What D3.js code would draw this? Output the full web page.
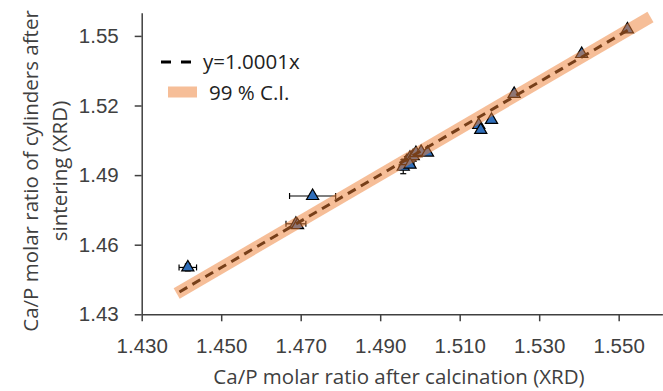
<!DOCTYPE html>
<html>
<head>
<meta charset="utf-8">
<script src="https://cdn.jsdelivr.net/npm/d3@7"></script>
<style>
  body { margin: 0; background: #fff; }
  svg { display: block; font-family: "Open Sans", Lato, sans-serif; }
</style>
</head>
<body>
<svg id="chart" width="663" height="391"></svg>
<script>
// Ca/P after calcination (x) vs after sintering (y)
const calcination = [1.4416, 1.4730, 1.4688, 1.4692, 1.4958, 1.4967, 1.4975, 1.4983, 1.4990,
                     1.5003, 1.5019, 1.4975, 1.5148, 1.5153, 1.5180, 1.5237, 1.5407, 1.5522];
const sintering   = [1.4502, 1.4810, 1.4690, 1.4684, 1.4936, 1.4960, 1.4975, 1.4982, 1.4995,
                     1.5000, 1.4997, 1.4945, 1.5116, 1.5095, 1.5138, 1.5250, 1.5422, 1.5528];
const xErr        = [0.0022, 0.0058, 0.0025, 0, 0.0010, 0.0012, 0.0010, 0.0010, 0.0010,
                     0.0010, 0, 0.0010, 0, 0, 0, 0, 0, 0];
const yErr        = [0.0015, 0.0008, 0.0015, 0, 0.0030, 0.0020, 0.0015, 0.0015, 0.0010,
                     0.0010, 0, 0.0010, 0, 0, 0, 0.0008, 0.0008, 0.0008];

const xTicks = [1.430, 1.450, 1.470, 1.490, 1.510, 1.530, 1.550];
const yTicks = [1.43, 1.46, 1.49, 1.52, 1.55];

const fitSlope = 1.0001;
const fitRange = [1.4395, 1.5528];   // dashed line ends
const ciRange  = [1.4388, 1.5580];   // band ends

const points = calcination.map((x, i) => ({ x, y: sintering[i], ex: xErr[i], ey: yErr[i] }));

const svg = d3.select('#chart');

const x = d3.scaleLinear().domain([1.43, 1.561]).range([141.7, 662.4]);
const y = d3.scaleLinear().domain([1.43, 1.56]).range([314.3, 12.7]);

const axisColor = '#404040';
const fontSize = '20.5px';

// x axis
const gx = svg.append('g')
    .attr('transform', `translate(0,${y(1.43)})`)
    .call(d3.axisBottom(x).tickValues(xTicks).tickFormat(d3.format('.3f'))
        .tickSize(7).tickSizeOuter(0).tickPadding(17));
gx.select('.domain').attr('stroke', axisColor).attr('stroke-width', 1.5);
gx.selectAll('.tick line').attr('stroke', axisColor).attr('stroke-width', 1.5);
gx.selectAll('.tick text').attr('fill', '#404040').style('font-size', fontSize);

// y axis
const gy = svg.append('g')
    .attr('transform', `translate(${x(1.43)},0)`)
    .call(d3.axisLeft(y).tickValues(yTicks).tickFormat(d3.format('.2f'))
        .tickSize(7).tickSizeOuter(0).tickPadding(16));
gy.select('.domain').attr('stroke', axisColor).attr('stroke-width', 1.5);
gy.selectAll('.tick line').attr('stroke', axisColor).attr('stroke-width', 1.5);
gy.selectAll('.tick text').attr('fill', '#404040').style('font-size', fontSize);

// axis titles
svg.append('text')
    .attr('x', 399).attr('y', 384)
    .attr('text-anchor', 'middle')
    .attr('fill', '#404040')
    .style('font-size', fontSize)
    .text('Ca/P molar ratio after calcination (XRD)');

const yTitle = svg.append('text')
    .attr('transform', 'translate(38,171) rotate(-90)')
    .attr('text-anchor', 'middle')
    .attr('fill', '#404040')
    .style('font-size', '20.5px');
yTitle.append('tspan').attr('x', 0).attr('y', 0).text('Ca/P molar ratio of cylinders after');
yTitle.append('tspan').attr('x', 0).attr('y', 29).text('sintering (XRD)');

// error bars
const cap = 3;
const bars = svg.append('g').attr('stroke', '#000').attr('stroke-width', 1.2);
points.filter(d => d.ex > 0).forEach(d => {
    bars.append('line').attr('x1', x(d.x - d.ex)).attr('x2', x(d.x + d.ex)).attr('y1', y(d.y)).attr('y2', y(d.y));
    bars.append('line').attr('x1', x(d.x - d.ex)).attr('x2', x(d.x - d.ex)).attr('y1', y(d.y) - cap).attr('y2', y(d.y) + cap);
    bars.append('line').attr('x1', x(d.x + d.ex)).attr('x2', x(d.x + d.ex)).attr('y1', y(d.y) - cap).attr('y2', y(d.y) + cap);
});
points.filter(d => d.ey > 0).forEach(d => {
    bars.append('line').attr('x1', x(d.x)).attr('x2', x(d.x)).attr('y1', y(d.y - d.ey)).attr('y2', y(d.y + d.ey));
    bars.append('line').attr('x1', x(d.x) - cap).attr('x2', x(d.x) + cap).attr('y1', y(d.y - d.ey)).attr('y2', y(d.y - d.ey));
    bars.append('line').attr('x1', x(d.x) - cap).attr('x2', x(d.x) + cap).attr('y1', y(d.y + d.ey)).attr('y2', y(d.y + d.ey));
});

// triangles
svg.append('g').selectAll('path')
    .data(points)
    .join('path')
    .attr('d', d3.symbol(d3.symbolTriangle, 64))
    .attr('transform', d => `translate(${x(d.x)},${y(d.y)})`)
    .attr('fill', '#2F6EBA')
    .attr('stroke', '#000')
    .attr('stroke-width', 1.2);

// fitted line y = 1.0001x
const line = d3.line().x(d => x(d[0])).y(d => y(d[1]));
svg.append('path')
    .attr('d', line(fitRange.map(v => [v, v * fitSlope])))
    .attr('stroke', '#000')
    .attr('stroke-width', 3)
    .attr('stroke-dasharray', '9,6')
    .attr('fill', 'none');

// 99 % confidence band, drawn on top, half transparent
svg.append('path')
    .attr('d', line(ciRange.map(v => [v, v * fitSlope])))
    .attr('stroke', '#ED7D31')
    .attr('stroke-opacity', 0.5)
    .attr('stroke-width', 12)
    .attr('fill', 'none');

// legend
const legend = svg.append('g');
legend.append('line')
    .attr('x1', 161).attr('x2', 192).attr('y1', 62).attr('y2', 62)
    .attr('stroke', '#000').attr('stroke-width', 3).attr('stroke-dasharray', '10,10');
legend.append('text')
    .attr('x', 203).attr('y', 69)
    .attr('fill', '#222')
    .style('font-size', fontSize)
    .text('y=1.0001x');
legend.append('line')
    .attr('x1', 168).attr('x2', 197).attr('y1', 92).attr('y2', 92)
    .attr('stroke', '#ED7D31').attr('stroke-opacity', 0.5).attr('stroke-width', 11);
legend.append('text')
    .attr('x', 209).attr('y', 100)
    .attr('fill', '#222')
    .style('font-size', fontSize)
    .text('99 % C.I.');
</script>
</body>
</html>
